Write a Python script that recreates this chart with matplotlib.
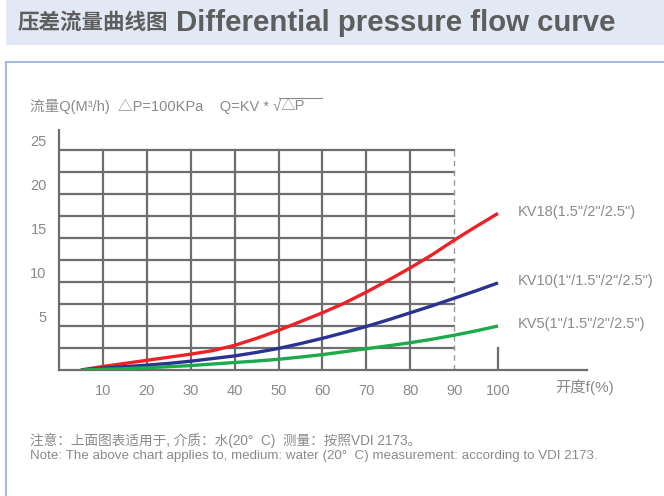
import numpy as np
import matplotlib
matplotlib.use("Agg")
import matplotlib.pyplot as plt
from matplotlib.lines import Line2D
from matplotlib.patches import Rectangle

plt.rcParams['font.family'] = ['Liberation Sans', 'Noto Sans CJK SC', 'DejaVu Sans']

# opening (%) and flow (m3/h)
opening = [5, 10, 15, 20, 25, 30, 35, 40, 45, 50, 55, 60, 65, 70, 75, 80, 85, 90, 95, 100]
kv18 = [0.0, 0.4, 0.75, 1.1, 1.45, 1.8, 2.2, 2.8, 3.6, 4.5, 5.5, 6.5, 7.6, 8.85,
        10.2, 11.6, 13.1, 14.75, 16.3, 17.8]
kv10 = [0.0, 0.22, 0.38, 0.55, 0.75, 1.0, 1.3, 1.6, 2.0, 2.45, 3.0, 3.6, 4.25, 4.95,
        5.7, 6.5, 7.3, 8.15, 9.0, 9.9]
kv5 = [0.0, 0.08, 0.15, 0.25, 0.38, 0.5, 0.68, 0.85, 1.02, 1.22, 1.47, 1.75, 2.08, 2.42,
       2.75, 3.1, 3.5, 3.95, 4.45, 5.0]

curve_labels = ['KV18(1.5"/2"/2.5")', 'KV10(1"/1.5"/2"/2.5")', 'KV5(1"/1.5"/2"/2.5")']
curve_colors = ['#ec2227', '#2b3390', '#1bab4b']

x_ticks = [10, 20, 30, 40, 50, 60, 70, 80, 90, 100]
y_ticks = [5, 10, 15, 20, 25]

grid_col = '#6e6e6e'
text_col = '#8a8a8a'

fig = plt.figure(figsize=(6.64, 4.96), dpi=100)
W, H = 664.0, 496.0

# header band and frame
fig.patches.append(Rectangle((6 / W, 1 - 45 / H), 1, 45 / H, transform=fig.transFigure,
                             facecolor='#e2e8f4', edgecolor='none', zorder=0))
fig.lines.append(Line2D([6 / W, 1], [1 - 62 / H, 1 - 62 / H], transform=fig.transFigure,
                        color='#a3bde0', lw=1.5))
fig.lines.append(Line2D([6 / W, 6 / W], [0, 1 - 62 / H], transform=fig.transFigure,
                        color='#a3bde0', lw=1.5))
fig.text(18 / W, 1 - 23 / H, '压差流量曲线图', fontsize=15.5, fontweight='bold',
         color='#5e5e5e', va='center', ha='left')
fig.text(176 / W, 1 - 23 / H, 'Differential pressure flow curve', fontsize=21.2,
         fontweight='bold', color='#5e5e5e', va='center', ha='left')

ax = fig.add_axes([59 / W, (H - 370) / H, (587 - 59) / W, (370 - 130) / H])
ax.set_xlim(0, (587 - 59) / 4.39)
ax.set_ylim(0, 240 / 8.8)
for s in ['top', 'right']:
    ax.spines[s].set_visible(False)
for s in ['left', 'bottom']:
    ax.spines[s].set_color(grid_col)
    ax.spines[s].set_linewidth(1.6)

# grid
for yv in np.arange(2.5, 25.01, 2.5):
    ax.plot([0, 90], [yv, yv], color=grid_col, lw=1.6, zorder=1)
for xv in x_ticks[:-2]:
    ax.plot([xv, xv], [0, 25], color=grid_col, lw=1.6, zorder=1)
ax.plot([90, 90], [0, 25], color='#9a9a9a', lw=1.0, ls=(0, (4, 3)), zorder=1)
ax.plot([100, 100], [0, 2.5], color=grid_col, lw=1.6, zorder=1)

for ys, col, lab in zip([kv18, kv10, kv5], curve_colors, curve_labels):
    ax.plot(opening, ys, color=col, lw=2.4, zorder=3, solid_capstyle='butt',
            solid_joinstyle='round')
    ax.text(104.5, ys[-1] + 0.2, lab, color=text_col, fontsize=10.5, va='center', ha='left')

ax.set_xticks(x_ticks)
ax.set_xticklabels([str(v) for v in x_ticks])
ax.set_yticks([])
ax.tick_params(axis='x', length=0, pad=10, labelsize=10.5, labelcolor=text_col)
for yv in y_ticks:
    ax.text(-2.8, yv + 0.9, str(yv), color=text_col, fontsize=10.5, va='center', ha='right')
ax.text(113, -2.0, '开度f(%)', color=text_col, fontsize=11, va='center', ha='left')

# top formula label
fig.text(30 / W, 1 - 106 / H, '流量Q(M³/h)  △P=100KPa    Q=KV * √', color=text_col,
         fontsize=10.5, va='center', ha='left')
fig.text(281 / W, 1 - 106 / H, '△P', color=text_col, fontsize=10.5, va='center', ha='left')
fig.lines.append(Line2D([279 / W, 322 / W], [1 - 98 / H, 1 - 98 / H], transform=fig.transFigure,
                        color=text_col, lw=0.8))

# notes
fig.text(30 / W, 1 - 441 / H, '注意：上面图表适用于, 介质：水(20°  C)  测量：按照VDI 2173。',
         color=text_col, fontsize=9.8, va='center', ha='left')
fig.text(30 / W, 1 - 456 / H,
         'Note: The above chart applies to, medium: water (20°  C) measurement: according to VDI 2173.',
         color=text_col, fontsize=9.6, va='center', ha='left')

fig.savefig('out.png', dpi=100, facecolor='white')
